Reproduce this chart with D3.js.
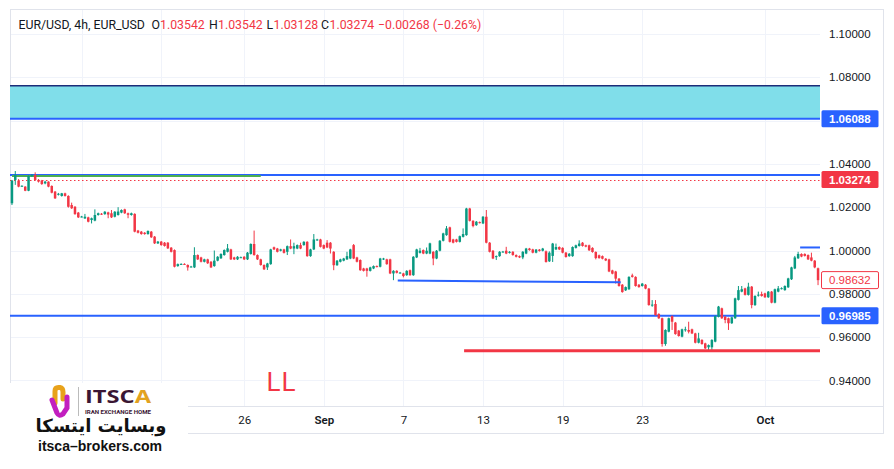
<!DOCTYPE html>
<html><head><meta charset="utf-8">
<script src="https://cdn.jsdelivr.net/npm/d3@7"></script>
<style>
html,body{margin:0;padding:0;background:#fff;}
svg{display:block;}
</style></head>
<body>
<svg id="chart" width="894" height="469"></svg>
<script>
// ---------- DATA (4h candles, EUR/USD) ----------
const opens = [
1.0218,1.0326,1.0323,1.0297,1.0295,1.0276,1.0344,1.0349,1.0326,1.0323,
1.0310,1.0318,1.0298,1.0272,1.0258,1.0252,1.0264,1.0252,1.0210,1.0202,
1.0175,1.0156,1.0148,1.0153,1.0141,1.0138,1.0164,1.0170,1.0168,1.0176,
1.0172,1.0156,1.0164,1.0175,1.0190,1.0172,1.0164,1.0169,1.0092,1.0087,
1.0082,1.0076,1.0087,1.0064,1.0033,1.0041,1.0036,1.0036,1.0013,1.0002,
0.9928,0.9937,0.9938,0.9933,0.9925,0.9922,0.9979,0.9968,0.9948,0.9959,
0.9948,0.9928,0.9953,0.9964,0.9979,0.9994,1.0005,0.9968,0.9959,0.9968,
0.9971,0.9959,0.9984,1.0030,0.9979,0.9959,0.9933,0.9922,0.9937,1.0015,
1.0009,0.9999,1.0005,0.9994,1.0020,1.0009,1.0009,1.0025,1.0025,1.0040,
0.9974,1.0005,1.0048,1.0051,1.0025,1.0036,1.0036,0.9994,0.9932,0.9948,
0.9953,0.9959,0.9963,1.0025,0.9968,0.9956,0.9917,0.9917,0.9906,0.9917,
0.9928,0.9925,0.9959,0.9959,0.9959,0.9894,0.9906,0.9897,0.9894,0.9886,
0.9909,0.9886,0.9968,0.9989,1.0002,0.9986,0.9986,0.9994,0.9963,0.9999,
1.0045,1.0071,1.0107,1.0051,1.0051,1.0040,1.0063,1.0071,1.0194,1.0137,
1.0117,1.0131,1.0125,1.0156,1.0036,0.9999,0.9971,0.9974,0.9994,0.9999,
0.9989,0.9994,0.9979,0.9974,0.9968,0.9986,1.0009,1.0005,0.9990,1.0004,
0.9999,0.9996,0.9950,0.9975,1.0005,1.0016,1.0012,0.9990,0.9974,0.9974,
1.0012,1.0021,1.0036,1.0024,1.0024,1.0012,0.9993,0.9978,0.9974,0.9962,
0.9959,0.9908,0.9903,0.9870,0.9842,0.9816,0.9821,0.9885,0.9878,0.9842,
0.9836,0.9842,0.9824,0.9748,0.9753,0.9707,0.9687,0.9568,0.9625,0.9697,
0.9667,0.9630,0.9602,0.9633,0.9633,0.9636,0.9617,0.9574,0.9587,0.9571,
0.9553,0.9553,0.9579,0.9694,0.9733,0.9694,0.9687,0.9664,0.9687,0.9772,
0.9810,0.9825,0.9795,0.9833,0.9748,0.9793,0.9799,0.9802,0.9784,0.9810,
0.9759,0.9810,0.9824,0.9817,0.9830,0.9867,0.9917,0.9964,0.9984,0.9984,
0.9979,0.9968,0.9953,0.9918];
const highs = [
1.0326,1.0367,1.0330,1.0301,1.0297,1.0347,1.0353,1.0361,1.0330,1.0326,
1.0322,1.0320,1.0301,1.0275,1.0266,1.0266,1.0267,1.0255,1.0221,1.0205,
1.0178,1.0160,1.0169,1.0156,1.0152,1.0190,1.0175,1.0173,1.0182,1.0179,
1.0187,1.0182,1.0200,1.0190,1.0193,1.0175,1.0175,1.0172,1.0095,1.0090,
1.0085,1.0093,1.0090,1.0067,1.0044,1.0044,1.0039,1.0039,1.0016,1.0005,
0.9940,0.9941,0.9941,0.9936,0.9929,1.0015,0.9982,0.9971,0.9962,0.9962,
0.9951,1.0000,0.9974,0.9987,1.0005,1.0030,1.0008,0.9971,0.9974,0.9972,
0.9974,0.9993,1.0033,1.0092,0.9982,0.9962,0.9936,0.9943,1.0008,1.0018,
1.0012,1.0008,1.0008,1.0023,1.0051,1.0036,1.0028,1.0036,1.0043,1.0043,
1.0008,1.0076,1.0054,1.0054,1.0028,1.0048,1.0039,0.9997,0.9956,0.9962,
0.9966,0.9994,1.0008,1.0030,0.9971,0.9959,0.9920,0.9920,0.9925,0.9931,
0.9931,0.9966,0.9966,0.9962,0.9962,0.9909,0.9909,0.9901,0.9897,0.9909,
0.9912,0.9974,1.0008,1.0012,1.0005,1.0014,1.0036,0.9997,1.0002,1.0048,
1.0082,1.0113,1.0110,1.0054,1.0054,1.0069,1.0102,1.0197,1.0197,1.0140,
1.0136,1.0134,1.0159,1.0187,1.0039,1.0002,0.9977,0.9997,0.9998,1.0017,
0.9997,0.9997,0.9982,0.9977,0.9997,1.0012,1.0012,1.0008,1.0007,1.0007,
1.0012,1.0000,0.9996,1.0035,1.0032,1.0019,1.0015,0.9993,0.9988,1.0019,
1.0027,1.0047,1.0039,1.0027,1.0027,1.0015,0.9996,0.9981,0.9977,0.9965,
0.9962,0.9911,0.9906,0.9873,0.9845,0.9834,0.9881,0.9893,0.9881,0.9845,
0.9850,0.9845,0.9827,0.9771,0.9771,0.9710,0.9690,0.9636,0.9690,0.9700,
0.9670,0.9633,0.9639,0.9648,0.9671,0.9639,0.9620,0.9620,0.9590,0.9574,
0.9566,0.9590,0.9700,0.9744,0.9736,0.9697,0.9690,0.9694,0.9782,0.9836,
0.9836,0.9828,0.9851,0.9836,0.9793,0.9810,0.9810,0.9805,0.9813,0.9813,
0.9824,0.9836,0.9830,0.9839,0.9874,0.9925,0.9975,0.9994,0.9987,0.9987,
0.9982,0.9990,0.9956,0.9921];
const lows = [
1.0210,1.0303,1.0292,1.0295,1.0274,1.0274,1.0340,1.0323,1.0314,1.0303,
1.0306,1.0292,1.0264,1.0238,1.0254,1.0249,1.0249,1.0198,1.0192,1.0165,
1.0150,1.0153,1.0146,1.0130,1.0125,1.0135,1.0161,1.0164,1.0165,1.0149,
1.0150,1.0153,1.0161,1.0172,1.0169,1.0149,1.0161,1.0084,1.0079,1.0073,
1.0073,1.0073,1.0058,1.0030,1.0030,1.0022,1.0018,1.0007,0.9991,0.9922,
0.9925,0.9934,0.9934,0.9907,0.9922,0.9919,0.9956,0.9945,0.9945,0.9938,
0.9919,0.9925,0.9950,0.9961,0.9976,0.9991,0.9956,0.9956,0.9956,0.9965,
0.9956,0.9956,0.9981,0.9976,0.9956,0.9930,0.9910,0.9910,0.9934,1.0002,
0.9991,0.9996,0.9986,0.9979,1.0006,0.9983,1.0006,1.0006,1.0022,0.9971,
0.9971,1.0002,1.0045,1.0014,1.0006,1.0011,0.9986,0.9909,0.9929,0.9945,
0.9950,0.9956,0.9960,0.9960,0.9945,0.9906,0.9903,0.9879,0.9903,0.9914,
0.9922,0.9922,0.9956,0.9934,0.9891,0.9863,0.9894,0.9894,0.9876,0.9883,
0.9883,0.9883,0.9965,0.9986,0.9983,0.9983,0.9983,0.9932,0.9960,0.9996,
1.0042,1.0068,1.0037,1.0033,1.0037,1.0037,1.0060,1.0068,1.0134,1.0107,
1.0114,1.0125,1.0122,1.0033,0.9991,0.9960,0.9956,0.9971,0.9991,0.9983,
0.9986,0.9976,0.9968,0.9965,0.9960,0.9983,0.9999,0.9987,0.9987,0.9995,
0.9996,0.9944,0.9947,0.9947,1.0002,1.0002,0.9987,0.9967,0.9971,0.9971,
1.0009,1.0018,1.0018,1.0015,0.9998,0.9990,0.9959,0.9962,0.9959,0.9951,
0.9900,0.9890,0.9847,0.9833,0.9805,0.9813,0.9818,0.9875,0.9833,0.9828,
0.9833,0.9821,0.9745,0.9740,0.9699,0.9684,0.9556,0.9560,0.9622,0.9633,
0.9611,0.9602,0.9599,0.9625,0.9617,0.9614,0.9571,0.9571,0.9565,0.9545,
0.9540,0.9538,0.9576,0.9691,0.9684,0.9664,0.9633,0.9661,0.9684,0.9769,
0.9807,0.9792,0.9792,0.9733,0.9744,0.9787,0.9787,0.9781,0.9781,0.9756,
0.9756,0.9807,0.9820,0.9814,0.9827,0.9864,0.9914,0.9961,0.9969,0.9972,
0.9956,0.9950,0.9918,0.9840];
const closes = [
1.0323,1.0349,1.0295,1.0299,1.0276,1.0344,1.0349,1.0326,1.0318,1.0307,
1.0318,1.0295,1.0267,1.0241,1.0262,1.0264,1.0252,1.0202,1.0195,1.0168,
1.0153,1.0157,1.0156,1.0133,1.0149,1.0164,1.0172,1.0167,1.0179,1.0166,
1.0153,1.0179,1.0180,1.0187,1.0172,1.0165,1.0172,1.0087,1.0082,1.0076,
1.0076,1.0090,1.0061,1.0033,1.0041,1.0025,1.0021,1.0010,0.9994,0.9925,
0.9937,0.9938,0.9937,0.9922,0.9926,0.9979,0.9959,0.9948,0.9959,0.9941,
0.9922,0.9953,0.9971,0.9984,1.0002,1.0010,0.9959,0.9959,0.9971,0.9969,
0.9959,0.9990,1.0030,0.9979,0.9959,0.9933,0.9913,0.9940,1.0005,1.0005,
0.9994,1.0005,0.9989,1.0020,1.0009,1.0020,1.0025,1.0009,1.0040,0.9974,
1.0005,1.0051,1.0051,1.0017,1.0009,1.0014,1.0009,0.9932,0.9953,0.9959,
0.9963,0.9974,1.0005,0.9963,0.9948,0.9909,0.9906,0.9906,0.9922,0.9928,
0.9925,0.9963,0.9963,0.9937,0.9894,0.9906,0.9897,0.9898,0.9882,0.9906,
0.9886,0.9971,1.0005,0.9999,0.9986,0.9999,1.0033,0.9963,0.9999,1.0045,
1.0079,1.0102,1.0040,1.0036,1.0040,1.0066,1.0076,1.0194,1.0137,1.0113,
1.0133,1.0128,1.0156,1.0036,0.9994,0.9963,0.9974,0.9994,0.9995,0.9986,
0.9994,0.9979,0.9971,0.9968,0.9994,1.0009,1.0002,0.9990,1.0004,0.9998,
1.0009,0.9947,0.9990,1.0032,1.0016,1.0005,0.9990,0.9970,0.9985,1.0016,
1.0024,1.0032,1.0021,1.0018,1.0001,0.9993,0.9965,0.9965,0.9962,0.9954,
0.9903,0.9893,0.9870,0.9836,0.9808,0.9831,0.9878,0.9878,0.9836,0.9831,
0.9847,0.9824,0.9748,0.9750,0.9702,0.9687,0.9568,0.9633,0.9687,0.9671,
0.9614,0.9605,0.9636,0.9636,0.9625,0.9617,0.9574,0.9594,0.9568,0.9548,
0.9563,0.9587,0.9697,0.9741,0.9687,0.9679,0.9664,0.9691,0.9779,0.9817,
0.9821,0.9795,0.9833,0.9748,0.9790,0.9796,0.9790,0.9784,0.9810,0.9759,
0.9821,0.9825,0.9826,0.9836,0.9871,0.9922,0.9968,0.9984,0.9972,0.9975,
0.9959,0.9953,0.9922,0.9863];

// axis ticks
const priceTicks = [1.10, 1.08, 1.04, 1.02, 1.00, 0.98, 0.96, 0.94];
const gridPrices = [1.10, 1.08, 1.06, 1.04, 1.02, 1.00, 0.98, 0.96, 0.94];
const timeTickIdx = [21, 45, 70, 94, 118, 142, 166, 190, 227];
const timeTickLabels = ["", "", "26", "Sep", "7", "13", "19", "23", "Oct"];
const boldLabels = ["Sep", "Oct"];

// drawings (candle index, price)
const zoneTop = 1.0761, zoneBottom = 1.06088;
const resistanceLine = 1.0349;
const greenLine = {from: 0, to: 75, price: 1.0344};
const lastPriceLine = 1.03274;
const supportLine = 0.96985;
const trendLine = {i1: 116.3, p1: 0.98612, i2: 183.5, p2: 0.98531};
const lowLine = {from: 136.3, price: 0.9537};
const highLine = {from: 237.6, price: 1.0014};
const priceBoxes = [
  {price: 1.06088, text: "1.06088", fill: "#2962ff", color: "#ffffff", bold: true},
  {price: 1.03274, text: "1.03274", fill: "#f23645", color: "#ffffff", bold: true},
  {price: 0.98632, text: "0.98632", fill: "#ffffff", color: "#f23645", stroke: "#f23645", bold: false},
  {price: 0.96985, text: "0.96985", fill: "#2962ff", color: "#ffffff", bold: true}
];

// ---------- LAYOUT ----------
const UP = "#089981", DOWN = "#f23645", BLUE = "#2962ff";
const N = closes.length;
const plotL = 10, plotR = 820, plotT = 10, plotB = 406;
const svg = d3.select("#chart");
svg.append("rect").attr("width", 894).attr("height", 469).attr("fill", "#fff");

const x = d3.scaleLinear().domain([-0.5, N - 0.5]).range([plotL + 0.3, plotR - 0.3]);
const y = d3.scaleLinear().domain([0.94, 1.10]).range([380.4, 34]);

// grid
const grid = svg.append("g").attr("shape-rendering", "crispEdges");
grid.selectAll("line.h").data(gridPrices).join("line")
  .attr("x1", plotL).attr("x2", plotR)
  .attr("y1", d => Math.round(y(d)) + 0.5).attr("y2", d => Math.round(y(d)) + 0.5)
  .attr("stroke", "#f0f3fa").attr("stroke-width", 1);
grid.selectAll("line.v").data(timeTickIdx).join("line")
  .attr("x1", d => Math.round(x(d)) + 0.5).attr("x2", d => Math.round(x(d)) + 0.5)
  .attr("y1", plotT).attr("y2", plotB)
  .attr("stroke", "#f0f3fa").attr("stroke-width", 1);

// frame
const frame = svg.append("g").attr("stroke", "#e0e3eb").attr("stroke-width", 1).attr("shape-rendering", "crispEdges");
frame.append("line").attr("x1", 10).attr("x2", 884).attr("y1", 9.5).attr("y2", 9.5);
frame.append("line").attr("x1", 10.5).attr("x2", 10.5).attr("y1", 9.5).attr("y2", 433.5);
frame.append("line").attr("x1", 883.5).attr("x2", 883.5).attr("y1", 9.5).attr("y2", 433.5);
frame.append("line").attr("x1", 10).attr("x2", 884).attr("y1", 406.5).attr("y2", 406.5);
frame.append("line").attr("x1", 10).attr("x2", 884).attr("y1", 433.5).attr("y2", 433.5);

// zone rectangle
svg.append("rect")
  .attr("x", plotL).attr("width", plotR - plotL)
  .attr("y", y(zoneTop)).attr("height", y(zoneBottom) - y(zoneTop))
  .attr("fill", "#80deea");
svg.append("line").attr("x1", plotL).attr("x2", plotR)
  .attr("y1", y(zoneTop)).attr("y2", y(zoneTop))
  .attr("stroke", "#1c2d78").attr("stroke-width", 1.5);
svg.append("line").attr("x1", plotL).attr("x2", plotR)
  .attr("y1", y(zoneBottom)).attr("y2", y(zoneBottom))
  .attr("stroke", BLUE).attr("stroke-width", 2);

// resistance + green line + dotted last price
svg.append("line").attr("x1", plotL).attr("x2", plotR)
  .attr("y1", y(resistanceLine)).attr("y2", y(resistanceLine))
  .attr("stroke", BLUE).attr("stroke-width", 2);
svg.append("line").attr("x1", x(greenLine.from)).attr("x2", x(greenLine.to))
  .attr("y1", y(greenLine.price)).attr("y2", y(greenLine.price))
  .attr("stroke", "#4caf50").attr("stroke-width", 2);
svg.append("line").attr("x1", plotL).attr("x2", plotR)
  .attr("y1", Math.round(y(lastPriceLine)) + 0.5).attr("y2", Math.round(y(lastPriceLine)) + 0.5)
  .attr("stroke", DOWN).attr("stroke-width", 1).attr("stroke-dasharray", "1.5,2.5");

// support
svg.append("line").attr("x1", plotL).attr("x2", plotR)
  .attr("y1", y(supportLine)).attr("y2", y(supportLine))
  .attr("stroke", BLUE).attr("stroke-width", 2);

// candles
const idx = d3.range(N);
const col = i => closes[i] >= opens[i] ? UP : DOWN;
const cg = svg.append("g");
cg.selectAll("line.wick").data(idx).join("line")
  .attr("x1", i => x(i)).attr("x2", i => x(i))
  .attr("y1", i => y(highs[i])).attr("y2", i => y(lows[i]))
  .attr("stroke", col).attr("stroke-width", 1);
cg.selectAll("rect.body").data(idx).join("rect")
  .attr("x", i => x(i) - 1.25).attr("width", 2.5)
  .attr("y", i => y(Math.max(opens[i], closes[i])))
  .attr("height", i => Math.max(1, Math.abs(y(opens[i]) - y(closes[i]))))
  .attr("fill", col);

// trend line
svg.append("line")
  .attr("x1", x(trendLine.i1)).attr("y1", y(trendLine.p1))
  .attr("x2", x(trendLine.i2)).attr("y2", y(trendLine.p2))
  .attr("stroke", BLUE).attr("stroke-width", 2);
// low line
svg.append("line").attr("x1", x(lowLine.from)).attr("x2", plotR)
  .attr("y1", y(lowLine.price)).attr("y2", y(lowLine.price))
  .attr("stroke", DOWN).attr("stroke-width", 3);
// high line
svg.append("line").attr("x1", x(highLine.from)).attr("x2", plotR)
  .attr("y1", y(highLine.price)).attr("y2", y(highLine.price))
  .attr("stroke", BLUE).attr("stroke-width", 2);

// LL annotation
svg.append("text").attr("x", x(76.7)).attr("y", y(0.9351))
  .attr("fill", DOWN).attr("font-family", "Roboto, sans-serif").attr("font-size", 26)
  .attr("letter-spacing", 1).text("LL");

// price axis
const yAxis = d3.axisRight(y).tickValues(priceTicks).tickFormat(d3.format(".5f")).tickSize(0).tickPadding(9);
const ya = svg.append("g").attr("transform", `translate(${plotR},0)`).call(yAxis);
ya.select(".domain").remove();
ya.selectAll("text").attr("font-family", "'Liberation Sans', Arial, sans-serif").attr("font-size", 11.5).attr("fill", "#131722");

// price boxes
const pb = svg.append("g").selectAll("g").data(priceBoxes).join("g")
  .attr("transform", d => `translate(821,${y(d.price)})`);
pb.append("rect").attr("x", 0.5).attr("y", -8.5).attr("width", 57).attr("height", 17).attr("rx", 1.5)
  .attr("fill", d => d.fill).attr("stroke", d => d.stroke || "none");
pb.append("text").attr("x", 8).attr("y", 4.2)
  .attr("font-family", "'Liberation Sans', Arial, sans-serif").attr("font-size", 11.5)
  .attr("font-weight", d => d.bold ? "bold" : "normal")
  .attr("fill", d => d.color).text(d => d.text);

// time axis
const xAxis = d3.axisBottom(x).tickValues(timeTickIdx)
  .tickFormat((d, i) => timeTickLabels[i]).tickSize(0).tickPadding(9.5);
const xa = svg.append("g").attr("transform", `translate(0,${plotB})`).call(xAxis);
xa.select(".domain").remove();
xa.selectAll("text").attr("font-family", "Roboto, sans-serif").attr("font-size", 11.5).attr("fill", "#131722")
  .attr("font-weight", function() { return boldLabels.includes(this.textContent) ? 600 : 400; });

// header
const hdr = svg.append("g").attr("font-family", "Roboto, sans-serif").attr("font-size", 12.3);
const hparts = [
  {x: 18.5, t: "EUR/USD, 4h, EUR_USD", c: "#131722"},
  {x: 151.5, t: "O", c: "#131722"}, {x: 160, t: "1.03542", c: DOWN},
  {x: 209, t: "H", c: "#131722"}, {x: 218, t: "1.03542", c: DOWN},
  {x: 266.5, t: "L", c: "#131722"}, {x: 273.5, t: "1.03128", c: DOWN},
  {x: 321, t: "C", c: "#131722"}, {x: 329.5, t: "1.03274", c: DOWN},
  {x: 378, t: "\u22120.00268 (\u22120.26%)", c: DOWN}
];
hdr.selectAll("text").data(hparts).join("text")
  .attr("x", d => d.x).attr("y", 28.5).attr("fill", d => d.c).text(d => d.t);

// logo
const logo = svg.append("g");
logo.append("rect").attr("x", 0).attr("y", 383).attr("width", 188).attr("height", 70).attr("fill", "#fff");
logo.append("path").attr("d", "M55,403 L55,391 Q55,387.5 58.5,387.5 L60,387.5 Q63,388 63,392 L63,399")
  .attr("fill", "none").attr("stroke", "#e8a21b").attr("stroke-width", 5).attr("stroke-linecap", "round");
logo.append("path").attr("d", "M52,400 L57,413 Q59,417 63,414 L67,408 L67,397")
  .attr("fill", "none").attr("stroke", "#c21fbf").attr("stroke-width", 5).attr("stroke-linecap", "round");
logo.append("line").attr("x1", 78.5).attr("x2", 78.5).attr("y1", 387).attr("y2", 416).attr("stroke", "#bbb").attr("stroke-width", 1);
const itsca = logo.append("text").attr("x", 85).attr("y", 403)
  .attr("font-family", "'Open Sans', Roboto, sans-serif").attr("font-size", 17).attr("font-weight", 700)
  .attr("fill", "#3a1633").attr("textLength", 66).attr("lengthAdjust", "spacingAndGlyphs");
itsca.append("tspan").text("ITSC");
itsca.append("tspan").attr("fill", "#e2a21f").text("A");
logo.append("text").attr("x", 85).attr("y", 414).attr("font-family", "Roboto, sans-serif")
  .attr("font-size", 4.6).attr("font-weight", 700).attr("fill", "#3a1633")
  .attr("textLength", 66).attr("lengthAdjust", "spacingAndGlyphs").text("IRAN EXCHANGE HOME");
logo.append("text").attr("x", 101).attr("y", 432).attr("text-anchor", "middle")
  .attr("font-family", "'DejaVu Sans', sans-serif").attr("font-size", 18).attr("font-weight", 700)
  .attr("fill", "#111").attr("direction", "rtl").text("وبسایت ایتسکا");
logo.append("text").attr("x", 38).attr("y", 451)
  .attr("font-family", "'Liberation Sans', Arial, sans-serif").attr("font-size", 15).attr("font-weight", 700)
  .attr("fill", "#111").attr("textLength", 124).attr("lengthAdjust", "spacingAndGlyphs").text("itsca\u2013brokers.com");
</script>
</body></html>
